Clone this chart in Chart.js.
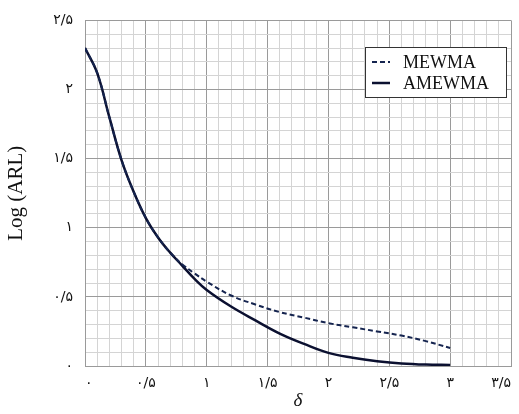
<!DOCTYPE html>
<html>
<head>
<meta charset="utf-8">
<script src="https://cdn.jsdelivr.net/npm/chart.js@4"></script>
<style>
    html, body { margin: 0; padding: 0; background: #fff; }
    #wrap { width: 519px; height: 414px; }
</style>
</head>
<body>
<div id="wrap"><canvas id="arlChart" width="519" height="414"></canvas></div>
<script>
// delta values (shift size)
const deltaMewma = [0, 0.1, 0.2, 0.3, 0.4, 0.5, 0.6, 0.7, 0.8, 0.9, 1.0, 1.2, 1.4, 1.6, 1.8, 2.0, 2.2, 2.4, 2.6, 2.8, 3.0];
const logArlMewma = [2.30, 2.12, 1.80, 1.49, 1.26, 1.07, 0.93, 0.82, 0.735, 0.67, 0.61, 0.51, 0.445, 0.39, 0.35, 0.31, 0.28, 0.25, 0.22, 0.18, 0.13];

const deltaAmewma = [0, 0.1, 0.2, 0.3, 0.4, 0.5, 0.6, 0.7, 0.8, 0.9, 1.0, 1.2, 1.4, 1.6, 1.8, 2.0, 2.2, 2.4, 2.6, 2.8, 3.0];
const logArlAmewma = [2.30, 2.12, 1.80, 1.49, 1.26, 1.07, 0.93, 0.82, 0.725, 0.63, 0.55, 0.43, 0.33, 0.235, 0.16, 0.095, 0.06, 0.035, 0.018, 0.01, 0.008];

const xTickLabels = ["۰", "۰/۵", "۱", "۱/۵", "۲", "۲/۵", "۳", "۳/۵"];
const yTickLabels = ["۰", "۰/۵", "۱", "۱/۵", "۲", "۲/۵"];

function toPoints(xs, ys) {
    return xs.map((x, i) => ({ x: x, y: ys[i] }));
}

function majorIndex(value) {
    const tenth = Math.round(value * 10);
    return tenth % 5 === 0 ? tenth / 5 : -1;
}

function gridColor(ctx) {
    return majorIndex(ctx.tick.value) >= 0 ? "#9a9a9a" : "#d4d4d4";
}

// legend drawn as a framed box inside the plot
const boxLegend = {
    id: "boxLegend",
    afterDraw(chart) {
        const ctx = chart.ctx;
        const left = 365, top = 47, w = 141, h = 50;
        ctx.save();
        ctx.fillStyle = "#fff";
        ctx.fillRect(left, top, w, h);
        ctx.strokeStyle = "#333";
        ctx.lineWidth = 1;
        ctx.strokeRect(left + 0.5, top + 0.5, w, h);
        ctx.font = "18px 'Liberation Serif'";
        ctx.textBaseline = "middle";
        chart.data.datasets.forEach((ds, i) => {
            const y = top + 15 + i * 21;
            ctx.strokeStyle = ds.borderColor;
            ctx.lineWidth = ds.borderWidth;
            ctx.setLineDash(ds.borderDash || []);
            ctx.beginPath();
            ctx.moveTo(left + 7, y);
            ctx.lineTo(left + 25, y);
            ctx.stroke();
            ctx.setLineDash([]);
            ctx.fillStyle = "#111";
            ctx.fillText(ds.label, left + 38, y + 1);
        });
        ctx.restore();
    },
};

new Chart(document.getElementById("arlChart").getContext("2d"), {
    type: "scatter",
    data: {
        datasets: [
            {
                label: "MEWMA",
                data: toPoints(deltaMewma, logArlMewma),
                showLine: true,
                borderColor: "#15244f",
                borderWidth: 2,
                borderDash: [5, 3],
                pointRadius: 0,
                tension: 0.4,
            },
            {
                label: "AMEWMA",
                data: toPoints(deltaAmewma, logArlAmewma),
                showLine: true,
                borderColor: "#0b1030",
                borderWidth: 2.5,
                pointRadius: 0,
                tension: 0.4,
            },
        ],
    },
    options: {
        responsive: false,
        animation: false,
        layout: { padding: { top: 12, right: 8, left: 0, bottom: 0 } },
        plugins: {
            legend: { display: false },
            tooltip: { enabled: false },
        },
        scales: {
            x: {
                type: "linear",
                min: 0,
                max: 3.5,
                ticks: {
                    stepSize: 0.1,
                    autoSkip: false,
                    maxRotation: 0,
                    align: "inner",
                    padding: 9,
                    color: "#111",
                    font: { family: "'DejaVu Sans'", size: 14 },
                    callback: (v) => {
                        const i = majorIndex(v);
                        return i >= 0 ? xTickLabels[i] : "";
                    },
                },
                grid: { color: gridColor, drawTicks: false, lineWidth: 1 },
                border: { color: "#9a9a9a" },
                title: {
                    display: true,
                    text: "δ",
                    color: "#111",
                    font: { family: "'Liberation Serif'", size: 19, style: "italic" },
                    padding: { top: 0, bottom: 2 },
                },
                afterFit: (scale) => {
                    scale.height = 48;
                    scale.paddingLeft = 0;
                    scale.paddingRight = 0;
                },
            },
            y: {
                type: "linear",
                min: 0,
                max: 2.5,
                ticks: {
                    stepSize: 0.1,
                    autoSkip: false,
                    padding: 12,
                    color: "#111",
                    font: { family: "'DejaVu Sans'", size: 14 },
                    callback: (v) => {
                        const i = majorIndex(v);
                        return i >= 0 ? yTickLabels[i] : "";
                    },
                },
                grid: { color: gridColor, drawTicks: false, lineWidth: 1 },
                border: { color: "#9a9a9a" },
                title: {
                    display: true,
                    text: "Log (ARL)",
                    color: "#111",
                    font: { family: "'Liberation Serif'", size: 21 },
                    padding: { top: 4, bottom: 0 },
                },
                afterFit: (scale) => {
                    scale.width = 85;
                },
            },
        },
    },
    plugins: [boxLegend],
});
</script>
</body>
</html>
